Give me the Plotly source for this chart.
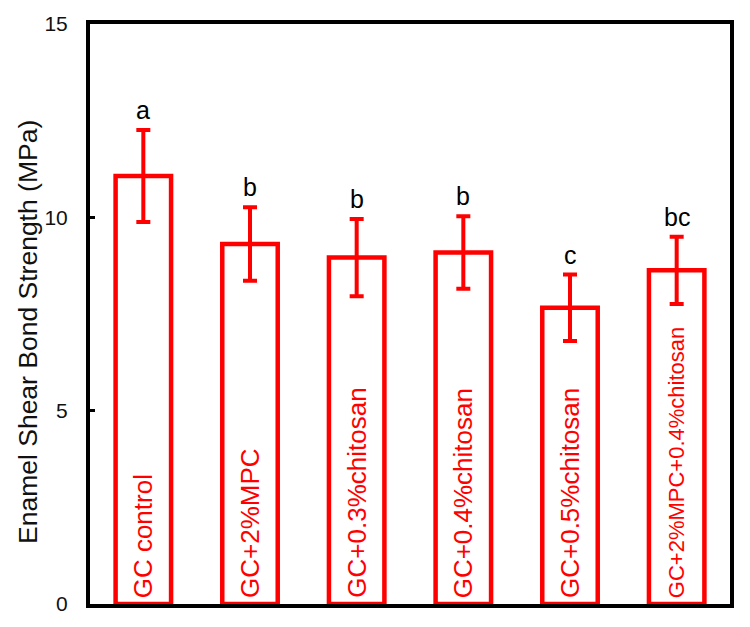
import plotly.graph_objects as go

categories = ["GC control", "GC+2%MPC", "GC+0.3%chitosan", "GC+0.4%chitosan",
              "GC+0.5%chitosan", "GC+2%MPC+0.4%chitosan"]
means = [11.07, 9.31, 8.96, 9.09, 7.66, 8.63]
errors = [1.19, 0.95, 1.0, 0.94, 0.86, 0.87]
letters = ["a", "b", "b", "b", "c", "bc"]
label_sizes = [26, 26, 26, 26, 26, 22]
y_ticks = [0, 5, 10, 15]

RED = "#ff0000"
FONT = "Liberation Sans, Arial, sans-serif"

fig = go.Figure()
fig.add_trace(go.Bar(
    x=categories, y=means, width=0.52,
    marker=dict(color="white", line=dict(color=RED, width=4.5)),
    error_y=dict(type="data", array=errors, visible=True, color=RED,
                 thickness=4, width=7),
    showlegend=False,
))

annotations = []
for cat, m, e, lt, fs in zip(categories, means, errors, letters, label_sizes):
    annotations.append(dict(x=cat, y=0, xref="x", yref="y", text=cat,
                            textangle=-90, showarrow=False, yanchor="bottom",
                            xanchor="center", yshift=4,
                            font=dict(family=FONT, size=fs, color=RED)))
    annotations.append(dict(x=cat, y=m + e, xref="x", yref="y", text=lt,
                            showarrow=False, yanchor="bottom", yshift=4,
                            font=dict(family=FONT, size=25, color="black")))

annotations.append(dict(x=(28 - 90) / 640, y=0.5, xref="paper", yref="paper",
                        xanchor="center", yanchor="middle", yshift=-18,
                        text="Enamel Shear Bond Strength (MPa)", textangle=-90,
                        showarrow=False,
                        font=dict(family=FONT, size=26.5, color="#111")))

fig.update_layout(
    width=750, height=627,
    margin=dict(l=90, r=20, t=18, b=17),
    paper_bgcolor="white", plot_bgcolor="white",
    annotations=annotations,
    xaxis=dict(range=[-0.5, 5.5], showticklabels=False, ticks="",
               showline=True, mirror=True, linecolor="black", linewidth=4,
               showgrid=False, zeroline=False),
    yaxis=dict(range=[0, 15], tickvals=y_ticks, ticks="inside", ticklen=5,
               tickwidth=3, tickcolor="black", showline=True, mirror=True,
               linecolor="black", linewidth=4, showgrid=False, zeroline=False,
               ticklabelstandoff=14,
               tickfont=dict(family=FONT, size=21, color="#111")),
)

fig.write_html("out.html")
